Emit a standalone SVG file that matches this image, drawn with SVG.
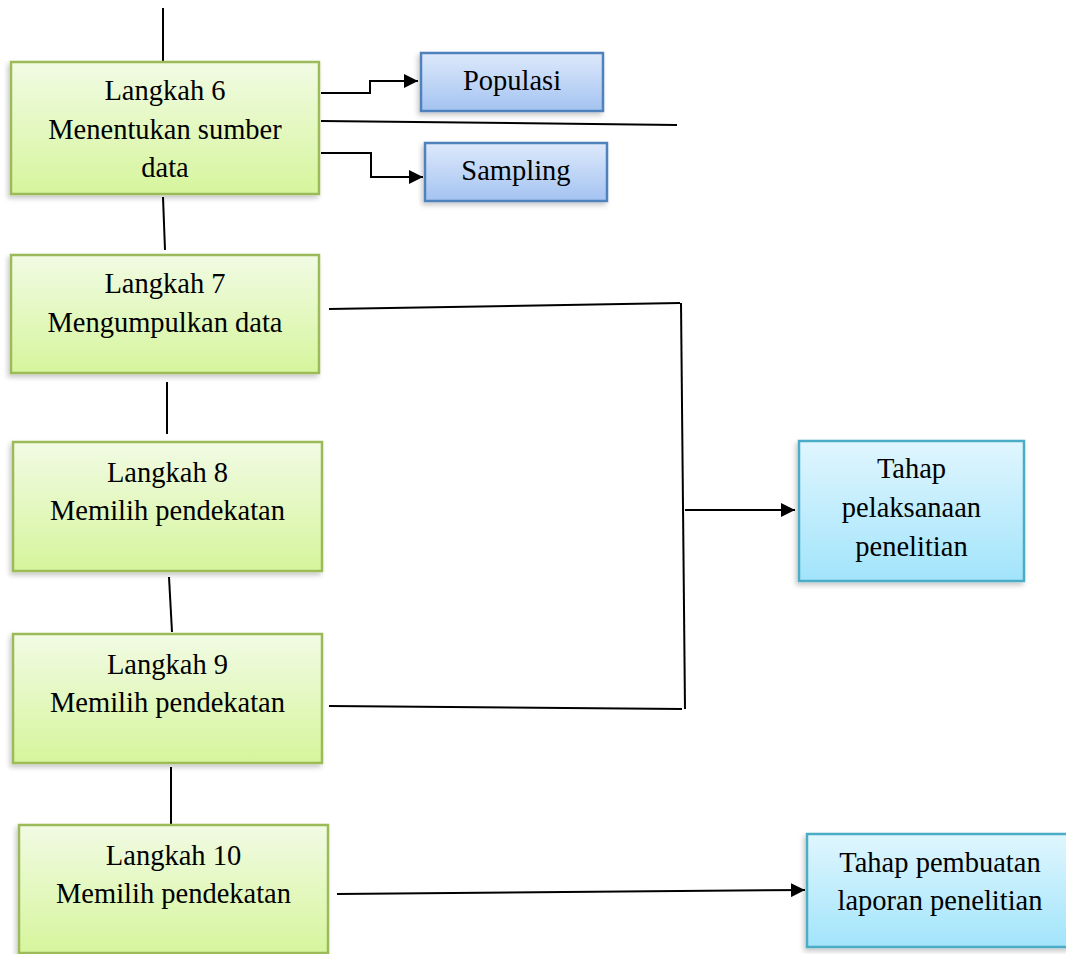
<svg xmlns="http://www.w3.org/2000/svg" width="1066" height="954" viewBox="0 0 1066 954" font-family="'Liberation Serif', serif">
  <defs>
    <linearGradient id="gGreen" x1="0" y1="0" x2="0" y2="1">
      <stop offset="0" stop-color="#f1fbe4"/>
      <stop offset="1" stop-color="#d6f59c"/>
    </linearGradient>
    <linearGradient id="gBlue" x1="0" y1="0" x2="0" y2="1">
      <stop offset="0" stop-color="#dde9fb"/>
      <stop offset="1" stop-color="#a4c3f1"/>
    </linearGradient>
    <linearGradient id="gCyan" x1="0" y1="0" x2="0" y2="1">
      <stop offset="0" stop-color="#e0f6fe"/>
      <stop offset="1" stop-color="#a2e4fb"/>
    </linearGradient>
    <filter id="shadow" x="-10%" y="-10%" width="120%" height="130%">
      <feDropShadow dx="-2" dy="3" stdDeviation="2.5" flood-color="#000" flood-opacity="0.22"/>
    </filter>
    <marker id="arrow" markerUnits="userSpaceOnUse" markerWidth="14" markerHeight="14" refX="14" refY="7" orient="auto">
      <path d="M0,0 L14,7 L0,14 z" fill="#000"/>
    </marker>
  </defs>
  <style>
    .green { fill: url(#gGreen); stroke: #9bbb59; stroke-width: 2.5; filter: url(#shadow); }
    .blue { fill: url(#gBlue); stroke: #4f81bd; stroke-width: 2.5; filter: url(#shadow); }
    .cyan { fill: url(#gCyan); stroke: #4bacc6; stroke-width: 2.5; filter: url(#shadow); }
    text { font-family: 'Liberation Serif', serif; font-size: 28.5px; fill: #000; text-anchor: middle; }
    .conn { fill: none; stroke: #000; stroke-width: 2; }
  </style>

  <g id="connectors">
    <path class="conn" d="M163,8 L163,61"/>
    <path class="conn" d="M163,197 L165,250"/>
    <path class="conn" d="M321,93 H370 V81 H418" marker-end="url(#arrow)"/>
    <path class="conn" d="M321,121 L677,125"/>
    <path class="conn" d="M321,153 H371 V177 H423" marker-end="url(#arrow)"/>
    <path class="conn" d="M329,309 L680,303"/>
    <path class="conn" d="M681,303 L685,709"/>
    <path class="conn" d="M329,706 L682,709"/>
    <path class="conn" d="M685,510 H795" marker-end="url(#arrow)"/>
    <path class="conn" d="M167,382 L167,434"/>
    <path class="conn" d="M169,577 L172,632"/>
    <path class="conn" d="M171,767 L171,824"/>
    <path class="conn" d="M337,894 L805,890" marker-end="url(#arrow)"/>
  </g>

  <g id="langkah6">
    <rect class="green" x="11" y="62" width="308" height="132"/>
    <text x="165" y="100">Langkah 6</text>
    <text x="165" y="139">Menentukan sumber</text>
    <text x="165" y="177">data</text>
  </g>
  <g id="populasi">
    <rect class="blue" x="421" y="53" width="182" height="58"/>
    <text x="512" y="90">Populasi</text>
  </g>
  <g id="sampling">
    <rect class="blue" x="425" y="143" width="182" height="58"/>
    <text x="516" y="180">Sampling</text>
  </g>
  <g id="langkah7">
    <rect class="green" x="11" y="255" width="308" height="118"/>
    <text x="165" y="293">Langkah 7</text>
    <text x="165" y="332">Mengumpulkan data</text>
  </g>
  <g id="langkah8">
    <rect class="green" x="13" y="442" width="309" height="129"/>
    <text x="167.5" y="482">Langkah 8</text>
    <text x="167.5" y="520">Memilih pendekatan</text>
  </g>
  <g id="langkah9">
    <rect class="green" x="13" y="634" width="309" height="129"/>
    <text x="167.5" y="674">Langkah 9</text>
    <text x="167.5" y="712">Memilih pendekatan</text>
  </g>
  <g id="langkah10">
    <rect class="green" x="19" y="825" width="309" height="128"/>
    <text x="173.5" y="865">Langkah 10</text>
    <text x="173.5" y="903">Memilih pendekatan</text>
  </g>
  <g id="tahapPelaksanaan">
    <rect class="cyan" x="799" y="441" width="225" height="140"/>
    <text x="911.5" y="478">Tahap</text>
    <text x="911.5" y="517">pelaksanaan</text>
    <text x="911.5" y="556">penelitian</text>
  </g>
  <g id="tahapPembuatan">
    <rect class="cyan" x="807" y="834" width="266" height="113"/>
    <text x="940" y="872">Tahap pembuatan</text>
    <text x="940" y="910">laporan penelitian</text>
  </g>
</svg>
